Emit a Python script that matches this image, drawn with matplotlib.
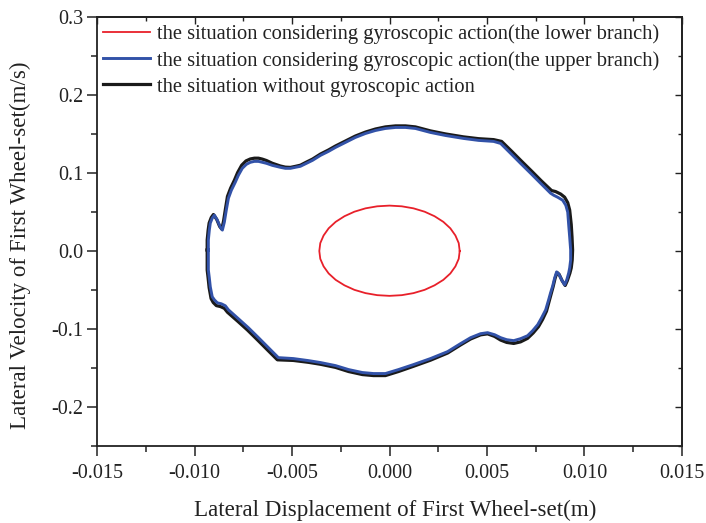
import matplotlib
matplotlib.use("Agg")
import matplotlib.pyplot as plt
from matplotlib.ticker import MultipleLocator

plt.rcParams['font.family'] = ['Liberation Serif', 'DejaVu Serif']

# Lower branch with gyroscopic action (small limit cycle)
lower_x = [0.00360, 0.00355, 0.00338, 0.00312, 0.00276, 0.00231, 0.00180, 0.00123, 0.00063, 0.00000,
           -0.00063, -0.00123, -0.00180, -0.00231, -0.00276, -0.00312, -0.00338, -0.00355, -0.00360,
           -0.00355, -0.00338, -0.00312, -0.00276, -0.00231, -0.00180, -0.00123, -0.00063, 0.00000,
           0.00063, 0.00123, 0.00180, 0.00231, 0.00276, 0.00312, 0.00338, 0.00355, 0.00360]
lower_v = [0.0000, 0.0101, 0.0199, 0.0291, 0.0374, 0.0446, 0.0504, 0.0547, 0.0573, 0.0582,
           0.0573, 0.0547, 0.0504, 0.0446, 0.0374, 0.0291, 0.0199, 0.0101, 0.0000,
           -0.0100, -0.0197, -0.0288, -0.0370, -0.0440, -0.0498, -0.0540, -0.0566, -0.0575,
           -0.0566, -0.0540, -0.0498, -0.0440, -0.0370, -0.0288, -0.0197, -0.0100, 0.0000]

# Upper branch with gyroscopic action
upper_x = [-0.00929, -0.00929, -0.00924, -0.00919, -0.00909, -0.00898, -0.00883, -0.00868, -0.00857,
           -0.00847, -0.00837, -0.00826, -0.00811, -0.00791, -0.00775, -0.00755, -0.00734, -0.00714,
           -0.00693, -0.00672, -0.00652, -0.00631, -0.00601, -0.00560, -0.00534, -0.00508, -0.00483,
           -0.00457, -0.00426, -0.00395, -0.00354, -0.00313, -0.00277, -0.00226, -0.00175, -0.00123,
           -0.00072, -0.00021, 0.00031, 0.00082, 0.00133, 0.00210, 0.00287, 0.00380, 0.00457,
           0.00534, 0.00570, 0.00621, 0.00672, 0.00724, 0.00775, 0.00826, 0.00842, 0.00862,
           0.00888, 0.00904, 0.00914, 0.00919, 0.00924, 0.00929, 0.00929, 0.00924, 0.00919,
           0.00909, 0.00898, 0.00883, 0.00868, 0.00857, 0.00847, 0.00837, 0.00826, 0.00816,
           0.00801, 0.00780, 0.00760, 0.00734, 0.00708, 0.00672, 0.00637, 0.00601, 0.00570,
           0.00539, 0.00503, 0.00467, 0.00416, 0.00364, 0.00298, 0.00210, 0.00123, 0.00046,
           -0.00021, -0.00082, -0.00139, -0.00210, -0.00277, -0.00354, -0.00416, -0.00493, -0.00570,
           -0.00621, -0.00672, -0.00724, -0.00775, -0.00826, -0.00842, -0.00862, -0.00883, -0.00898,
           -0.00909, -0.00914, -0.00919, -0.00924, -0.00929, -0.00929, -0.00929]
upper_v = [0.0013, 0.0140, 0.0268, 0.0358, 0.0421, 0.0460, 0.0396, 0.0307, 0.0268,
           0.0370, 0.0524, 0.0677, 0.0779, 0.0881, 0.0971, 0.1060, 0.1111, 0.1137,
           0.1149, 0.1149, 0.1137, 0.1124, 0.1098, 0.1073, 0.1060, 0.1060, 0.1073,
           0.1086, 0.1124, 0.1162, 0.1226, 0.1277, 0.1328, 0.1392, 0.1456, 0.1507,
           0.1545, 0.1571, 0.1584, 0.1584, 0.1571, 0.1520, 0.1481, 0.1443, 0.1418,
           0.1405, 0.1379, 0.1252, 0.1124, 0.0996, 0.0868, 0.0741, 0.0715, 0.0690,
           0.0651, 0.0587, 0.0498, 0.0332, 0.0179, 0.0013, -0.0115, -0.0217, -0.0281,
           -0.0370, -0.0434, -0.0370, -0.0294, -0.0268, -0.0345, -0.0447, -0.0536, -0.0626,
           -0.0754, -0.0856, -0.0945, -0.1022, -0.1086, -0.1124, -0.1149, -0.1137, -0.1111,
           -0.1073, -0.1047, -0.1060, -0.1111, -0.1188, -0.1290, -0.1379, -0.1456, -0.1520,
           -0.1571, -0.1571, -0.1558, -0.1520, -0.1469, -0.1430, -0.1405, -0.1379, -0.1367,
           -0.1239, -0.1111, -0.0983, -0.0868, -0.0754, -0.0702, -0.0677, -0.0664, -0.0626,
           -0.0587, -0.0524, -0.0460, -0.0345, -0.0243, -0.0115, 0.0013]

# Without gyroscopic action
nogyro_x = [-0.00935, -0.00935, -0.00930, -0.00925, -0.00914, -0.00903, -0.00886, -0.00871, -0.00860,
            -0.00851, -0.00841, -0.00831, -0.00815, -0.00795, -0.00779, -0.00758, -0.00736, -0.00714,
            -0.00693, -0.00672, -0.00652, -0.00631, -0.00601, -0.00560, -0.00534, -0.00508, -0.00483,
            -0.00457, -0.00426, -0.00395, -0.00354, -0.00313, -0.00277, -0.00226, -0.00175, -0.00123,
            -0.00072, -0.00021, 0.00031, 0.00082, 0.00133, 0.00210, 0.00287, 0.00380, 0.00457,
            0.00534, 0.00575, 0.00626, 0.00677, 0.00729, 0.00780, 0.00831, 0.00852, 0.00878,
            0.00898, 0.00914, 0.00924, 0.00932, 0.00936, 0.00939, 0.00937, 0.00932, 0.00925,
            0.00912, 0.00901, 0.00885, 0.00870, 0.00859, 0.00849, 0.00839, 0.00829, 0.00819,
            0.00805, 0.00785, 0.00764, 0.00737, 0.00708, 0.00672, 0.00637, 0.00601, 0.00570,
            0.00539, 0.00503, 0.00467, 0.00416, 0.00364, 0.00298, 0.00210, 0.00123, 0.00046,
            -0.00021, -0.00082, -0.00139, -0.00210, -0.00277, -0.00354, -0.00416, -0.00493, -0.00575,
            -0.00626, -0.00677, -0.00729, -0.00780, -0.00831, -0.00847, -0.00867, -0.00888, -0.00904,
            -0.00915, -0.00920, -0.00925, -0.00930, -0.00935, -0.00935, -0.00935]
nogyro_v = [0.0013, 0.0140, 0.0268, 0.0358, 0.0430, 0.0468, 0.0405, 0.0315, 0.0280,
            0.0385, 0.0545, 0.0700, 0.0805, 0.0910, 0.1005, 0.1100, 0.1155, 0.1180,
            0.1190, 0.1190, 0.1178, 0.1160, 0.1125, 0.1090, 0.1075, 0.1072, 0.1085,
            0.1100, 0.1140, 0.1178, 0.1243, 0.1295, 0.1346, 0.1410, 0.1474, 0.1525,
            0.1564, 0.1591, 0.1604, 0.1604, 0.1591, 0.1540, 0.1501, 0.1463, 0.1440,
            0.1428, 0.1405, 0.1280, 0.1152, 0.1024, 0.0896, 0.0775, 0.0762, 0.0730,
            0.0690, 0.0620, 0.0525, 0.0340, 0.0179, 0.0013, -0.0115, -0.0217, -0.0285,
            -0.0380, -0.0442, -0.0380, -0.0300, -0.0275, -0.0352, -0.0458, -0.0550, -0.0642,
            -0.0772, -0.0878, -0.0970, -0.1050, -0.1120, -0.1165, -0.1185, -0.1172, -0.1142,
            -0.1095, -0.1062, -0.1075, -0.1128, -0.1205, -0.1308, -0.1400, -0.1478, -0.1545,
            -0.1597, -0.1597, -0.1584, -0.1545, -0.1492, -0.1452, -0.1427, -0.1403, -0.1395,
            -0.1268, -0.1140, -0.1012, -0.0897, -0.0785, -0.0735, -0.0712, -0.0700, -0.0660,
            -0.0610, -0.0540, -0.0470, -0.0350, -0.0243, -0.0115, 0.0013]

labels = ["the situation considering gyroscopic action(the lower branch)",
          "the situation considering gyroscopic action(the upper branch)",
          "the situation without gyroscopic action"]

fig = plt.figure(figsize=(7.06, 5.23), dpi=100)
ax = fig.add_axes([0.1374, 0.1472, 0.8286, 0.8203])

l1, = ax.plot(lower_x, lower_v, color='#e8202a', lw=1.3, label=labels[0],
              solid_joinstyle='round')
l3, = ax.plot(nogyro_x, nogyro_v, color='#1a1a1a', lw=2.3, label=labels[2],
              solid_joinstyle='round')
l2, = ax.plot(upper_x, upper_v, color='#3252a8', lw=2.1, label=labels[1],
              solid_joinstyle='round')

ax.set_xlim(-0.015, 0.015)
ax.set_ylim(-0.25, 0.3)
ax.xaxis.set_minor_locator(MultipleLocator(0.0025))
ax.yaxis.set_minor_locator(MultipleLocator(0.05))
ax.set_xticks([-0.015, -0.010, -0.005, 0.0, 0.005, 0.010, 0.015])
ax.set_xticklabels(['-0.015', '-0.010', '-0.005', '0.000', '0.005', '0.010', '0.015'])
ax.set_yticks([-0.2, -0.1, 0.0, 0.1, 0.2, 0.3])
ax.set_yticklabels(['-0.2', '-0.1', '0.0', '0.1', '0.2', '0.3'])

ax.tick_params(which='both', direction='out', labelsize=14.5, width=1.1,
               colors='#222222', labelcolor='#222222')
ax.tick_params(which='major', length=7)
ax.tick_params(which='minor', length=4)
ax.tick_params(axis='x', pad=6)
ax.tick_params(axis='y', pad=3)

# inward ticks on the top and right frame lines
secx = ax.secondary_xaxis('top')
secx.xaxis.set_major_locator(MultipleLocator(0.005))
secx.xaxis.set_minor_locator(MultipleLocator(0.0025))
secx.tick_params(which='both', direction='in', labeltop=False, width=1.0, colors='#222222')
secx.tick_params(which='major', length=5)
secx.tick_params(which='minor', length=3)
secy = ax.secondary_yaxis('right')
secy.yaxis.set_major_locator(MultipleLocator(0.1))
secy.yaxis.set_minor_locator(MultipleLocator(0.05))
secy.tick_params(which='both', direction='in', labelright=False, width=1.0, colors='#222222')
secy.tick_params(which='major', length=5)
secy.tick_params(which='minor', length=3)
for s in list(ax.spines.values()) + [secx.spines['top'], secy.spines['right']]:
    s.set_linewidth(1.3)
    s.set_color('#222222')

ax.set_xlabel('Lateral Displacement of First Wheel-set(m)', fontsize=16.6,
              color='#222222', labelpad=12)
ax.xaxis.label.set_x(0.51)
ax.set_ylabel('Lateral Velocity of First Wheel-set(m/s)', fontsize=16.6,
              color='#222222')
ax.yaxis.set_label_coords(-0.113, 0.467)

leg = ax.legend(handles=[l1, l2, l3], loc='upper left', frameon=False,
                bbox_to_anchor=(0.003, 0.992),
                fontsize=14.8, handlelength=2.3, handletextpad=0.35,
                labelspacing=0.32, borderaxespad=0.0, borderpad=0.2)
for t in leg.get_texts():
    t.set_color('#222222')

fig.savefig('out.png', dpi=100)
